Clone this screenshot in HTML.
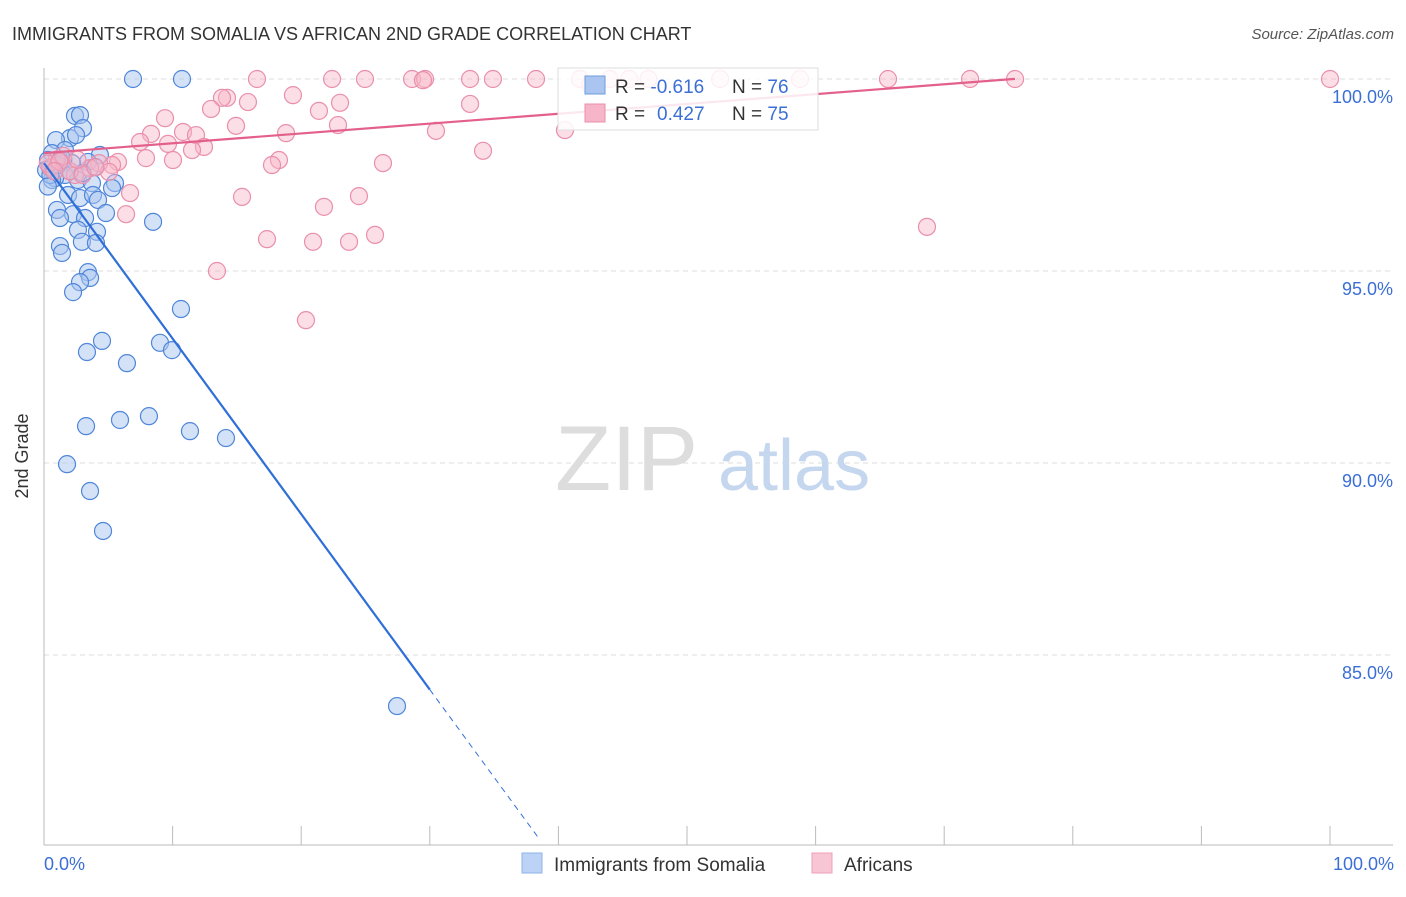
<!DOCTYPE html>
<html><head><meta charset="utf-8"><style>
body{margin:0;background:#fff;font-family:"Liberation Sans",sans-serif;}
svg text{font-family:"Liberation Sans",sans-serif;}
</style></head><body>
<svg width="1406" height="892" viewBox="0 0 1406 892">
<text x="12" y="40" font-size="18" fill="#333">IMMIGRANTS FROM SOMALIA VS AFRICAN 2ND GRADE CORRELATION CHART</text>
<text x="1394" y="39" font-size="15" fill="#555" font-style="italic" text-anchor="end">Source: ZipAtlas.com</text>
<g id="grid"></g>
<g>
<text x="555" y="490" font-size="92" fill="#ddd" font-family="Liberation Serif,serif">ZIP</text>
<text x="718" y="490" font-size="72" fill="#c5d6ef">atlas</text>
</g>
<line x1="44" y1="68" x2="44" y2="845" stroke="#bbb"/>
<line x1="44" y1="845" x2="1393" y2="845" stroke="#bbb"/>
<g id="ticks"></g>
<g id="pts"></g>
<g id="trends"></g>
<text x="28" y="456" font-size="18" fill="#333" text-anchor="middle" transform="rotate(-90 28 456)">2nd Grade</text>
<text x="44" y="870" font-size="18" fill="#3b6fd6">0.0%</text>
<text x="1394" y="870" font-size="18" fill="#3b6fd6" text-anchor="end">100.0%</text>
<g>
<rect x="558" y="68" width="260" height="62" fill="#fff" fill-opacity="0.85" stroke="#ddd"/>
<rect x="585" y="76" width="20" height="18" fill="#a9c5f0" stroke="#6f9be0"/>
<rect x="585" y="104" width="20" height="18" fill="#f6b5c8" stroke="#ea8fab"/>
<text x="615" y="93" font-size="19" fill="#333">R = <tspan fill="#3b6fd6">-0.616</tspan><tspan x="732">N = </tspan><tspan fill="#3b6fd6">76</tspan></text>
<text x="615" y="120" font-size="19" fill="#333">R = <tspan fill="#3b6fd6" x="657">0.427</tspan><tspan x="732">N = </tspan><tspan fill="#3b6fd6">75</tspan></text>
</g>
<g>
<rect x="522" y="853" width="20" height="20" fill="#bcd3f5" stroke="#8fb0e6"/>
<text x="554" y="871" font-size="19" fill="#333">Immigrants from Somalia</text>
<rect x="812" y="853" width="20" height="20" fill="#f8c5d4" stroke="#eea0b8"/>
<text x="844" y="871" font-size="19" fill="#333">Africans</text>
</g>
</svg>
<script>
const yTicks=[100,95,90,85];
const yTickLabels=["100.0%","95.0%","90.0%","85.0%"];
const xTicks=[10,20,30,40,50,60,70,80,90,100];
const blueX=[6.92,10.73,2.41,2.80,3.03,2.02,0.93,2.49,1.63,4.35,0.62,3.42,1.24,2.18,0.47,3.97,1.63,0.86,2.64,3.73,5.52,5.29,1.87,2.80,3.81,4.20,1.01,4.82,2.26,1.24,3.19,8.48,2.64,4.12,2.95,4.04,1.24,1.40,3.42,3.58,2.80,2.26,10.65,4.51,9.02,9.95,3.34,6.45,8.16,5.91,3.27,11.35,14.15,1.79,3.58,4.59,27.45,0.31,0.62,0.16,1.09,0.5,1.5,2.0,0.3,3.0];
const blueY=[100,100,99.04,99.06,98.72,98.46,98.41,98.54,98.15,98.02,98.07,97.84,97.89,97.81,97.68,97.71,97.5,97.42,97.37,97.29,97.29,97.16,96.98,96.9,96.98,96.85,96.59,96.51,96.48,96.38,96.38,96.28,96.07,96.02,95.76,95.73,95.65,95.47,94.97,94.82,94.71,94.45,94.01,93.18,93.13,92.94,92.89,92.6,91.22,91.12,90.96,90.83,90.65,89.97,89.27,88.23,83.67,97.89,97.37,97.63,97.76,97.5,97.9,97.6,97.2,97.55];
const pinkX=[16.56,22.40,24.96,28.62,29.63,33.13,34.91,38.26,41.68,52.57,58.79,65.63,72.01,75.51,100,29.47,42.46,19.36,14.23,13.84,15.86,23.02,9.41,12.99,21.38,14.93,18.82,22.86,8.32,10.81,11.82,7.47,9.64,12.44,11.51,30.48,34.14,40.51,10.03,7.93,5.75,5.29,4.28,18.27,17.73,26.36,5.05,6.69,15.40,24.49,21.77,6.38,25.74,17.34,20.92,23.72,13.45,20.37,68.66,3.58,2.41,33.13,1.0,0.5,2.0,1.5,0.3,3.0,4.0,2.6,1.2,0.8,44.0,45.5,47.0];
const pinkY=[100,100,100,100,100,100,100,100,100,100,100,100,100,100,100,99.97,99.84,99.58,99.51,99.51,99.4,99.38,98.98,99.22,99.17,98.78,98.59,98.8,98.57,98.62,98.54,98.36,98.31,98.23,98.15,98.65,98.13,98.67,97.89,97.94,97.84,97.76,97.81,97.89,97.76,97.81,97.58,97.03,96.93,96.95,96.67,96.48,95.94,95.83,95.76,95.76,95,93.72,96.15,97.68,97.5,99.35,97.9,97.7,97.6,98.0,97.8,97.5,97.7,97.9,97.85,97.6,100,100,100];
const blueTrend={a:97.81,b:-0.457,solidEnd:30,dashEnd:38.6};
const pinkTrend={a:98.07,b:0.0256,end:75.5};

const NS="http://www.w3.org/2000/svg";
const X=v=>44+v*12.86;
const Y=v=>79+(100-v)*38.4;
function mk(tag,attrs,parent){const e=document.createElementNS(NS,tag);for(const k in attrs)e.setAttribute(k,attrs[k]);parent.appendChild(e);return e;}
const grid=document.getElementById('grid');
yTicks.forEach((t,i)=>{
  const l=mk('line',{x1:44,x2:1393,y1:Y(t),y2:Y(t),stroke:'#ddd','stroke-dasharray':'5,4'},grid);
  
  
  const tx=mk('text',{x:1393,y:Y(t)+24,'font-size':18,fill:'#3b6fd6','text-anchor':'end'},grid);
  tx.textContent=yTickLabels[i];
  
  
});
const ticks=document.getElementById('ticks');
xTicks.forEach(t=>{
  const l=mk('line',{x1:X(t),x2:X(t),y1:826,y2:845,stroke:'#bbb'},ticks);
  
  
});
const pts=document.getElementById('pts');
blueX.forEach((x,i)=>{
  const c=mk('circle',{cx:X(x),cy:Y(blueY[i]),r:8.5,fill:'#a9c5f0','fill-opacity':0.5,stroke:'#4f86da','stroke-width':1.2},pts);
  
  
});
pinkX.forEach((x,i)=>{
  const c=mk('circle',{cx:X(x),cy:Y(pinkY[i]),r:8.5,fill:'#f6b5c8','fill-opacity':0.45,stroke:'#ea8fab','stroke-width':1.2},pts);
  
  
});
const tr=document.getElementById('trends');
const bf=x=>blueTrend.a+blueTrend.b*x;
let l1=mk('line',{x1:X(0),y1:Y(bf(0)),x2:X(blueTrend.solidEnd),y2:Y(bf(blueTrend.solidEnd)),stroke:'#2f6fd8','stroke-width':2.2},tr);


let l2=mk('line',{x1:X(blueTrend.solidEnd),y1:Y(bf(blueTrend.solidEnd)),x2:X(blueTrend.dashEnd),y2:Y(bf(blueTrend.dashEnd)),stroke:'#2f6fd8','stroke-width':1,'stroke-dasharray':'6,5'},tr);


const pf=x=>pinkTrend.a+pinkTrend.b*x;
let l3=mk('line',{x1:X(0),y1:Y(pf(0)),x2:X(pinkTrend.end),y2:Y(pf(pinkTrend.end)),stroke:'#e4608c','stroke-width':2.2},tr);


</script>
</body></html>
